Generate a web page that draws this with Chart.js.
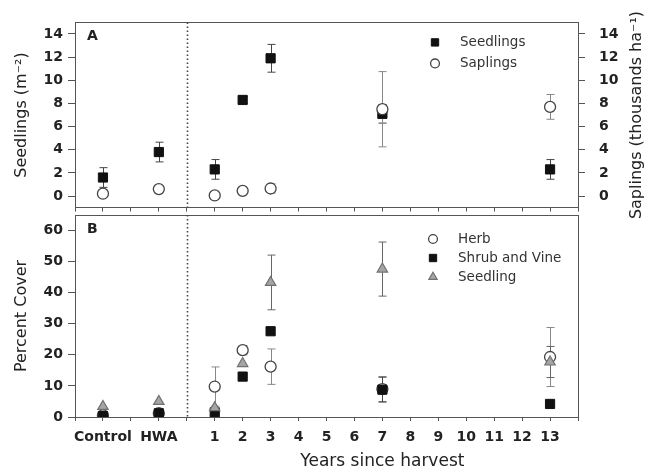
<!DOCTYPE html>
<html>
<head>
<meta charset="utf-8">
<script src="https://cdn.jsdelivr.net/npm/chart.js@4.4.1/dist/chart.umd.min.js"></script>
<style>
  html, body { margin: 0; padding: 0; background: #fff; }
  #wrap { position: relative; width: 645px; height: 473px; }
  canvas { position: absolute; left: 0; }
  #cA { top: 0; }
  #cB { top: 200px; }
</style>
</head>
<body>
<div id="wrap">
  <canvas id="cA" width="645" height="230"></canvas>
  <canvas id="cB" width="645" height="273"></canvas>
</div>
<script>
// ─── data ───
const groups = ['Control', 'HWA', '1', '2', '3', '7', '13'];

// panel A: density
const seedlingDensity    = [1.6, 3.8, 2.3, 8.3, 11.9, 7.1, 2.3];
const seedlingDensityErr = [0.85, 0.85, 0.85, 0.3, 1.2, 0.8, 0.85];
const saplingDensity     = [0.2, 0.6, 0.05, 0.45, 0.65, 7.5, 7.7];
const saplingDensityErr  = [0, 0, 0, 0, 0.4, 3.25, 1.07];

// panel B: percent cover
const herbCover        = [0.5, 1.2, 9.8, 21.5, 16.2, 9.0, 19.3];
const herbCoverErr     = [0, 0, 6.3, 1.5, 5.7, 4, 9.5];
const shrubCover       = [0.3, 1.2, 1.5, 13.0, 27.6, 8.8, 4.2];
const shrubCoverErr    = [0, 0, 0, 0, 0, 4, 0];
const seedlingCover    = [3.4, 5.0, 3.0, 17.2, 43.3, 47.6, 17.7];
const seedlingCoverErr = [0, 0, 0, 0, 8.8, 8.7, 5];

const yTicksA = [0, 2, 4, 6, 8, 10, 12, 14];
const yTicksB = [0, 10, 20, 30, 40, 50, 60];
const yearTicks = [1, 2, 3, 4, 5, 6, 7, 8, 9, 10, 11, 12, 13];

// reference groups sit left of the dotted line (x = 0)
const groupX = { Control: -3, HWA: -1 };
const xOf = g => (g in groupX ? groupX[g] : Number(g));
const pts = vals => groups.map((g, i) => ({ x: xOf(g), y: vals[i] }));

const tickLabel = v => {
    for (const k in groupX) if (groupX[k] === v) return k;
    return yearTicks.includes(v) ? String(v) : '';
};

Chart.defaults.font.family = "'DejaVu Sans', sans-serif";
Chart.defaults.color = '#222';

const FONT = "'DejaVu Sans', sans-serif";

// marker styles
const squareStyle = {
    pointStyle: 'rect', pointRadius: 6.5,
    pointBackgroundColor: '#111', pointBorderColor: '#111', pointBorderWidth: 1
};
const circleStyle = {
    pointStyle: 'circle', pointRadius: 5.5,
    pointBackgroundColor: '#fff', pointBorderColor: '#444', pointBorderWidth: 1.3
};
const triangleStyle = {
    pointStyle: 'triangle', pointRadius: 6,
    pointBackgroundColor: '#a5a5a5', pointBorderColor: '#707070', pointBorderWidth: 1.2
};

// ─── plugins ───
const errorBars = {
    id: 'errorBars',
    beforeDatasetsDraw(chart) {
        const ctx = chart.ctx;
        const y = chart.scales.y;
        chart.data.datasets.forEach((ds, i) => {
            if (!ds.err) return;
            const meta = chart.getDatasetMeta(i);
            ctx.save();
            ctx.strokeStyle = ds.errColor || '#555';
            ctx.lineWidth = 1;
            meta.data.forEach((pt, j) => {
                const e = ds.err[j];
                if (!e) return;
                const v = ds.data[j].y;
                const top = y.getPixelForValue(v + e);
                const bot = y.getPixelForValue(v - e);
                const x = Math.round(pt.x) + 0.5;
                ctx.beginPath();
                ctx.moveTo(x, top); ctx.lineTo(x, bot);
                ctx.moveTo(x - 4, top); ctx.lineTo(x + 4, top);
                ctx.moveTo(x - 4, bot); ctx.lineTo(x + 4, bot);
                ctx.stroke();
            });
            ctx.restore();
        });
    }
};

const panelDeco = {
    id: 'panelDeco',
    beforeDatasetsDraw(chart, args, o) {
        const { ctx, chartArea: a } = chart;
        ctx.save();
        // frame
        ctx.strokeStyle = '#555';
        ctx.lineWidth = 1;
        ctx.strokeRect(Math.round(a.left) + 0.5, Math.round(a.top) + 0.5,
                       Math.round(a.width), Math.round(a.height));
        // dotted divider between reference stands and years
        const px = Math.round(chart.scales.x.getPixelForValue(0)) + 0.5;
        ctx.strokeStyle = '#444';
        ctx.lineWidth = 1.6;
        ctx.setLineDash([1.6, 2.4]);
        ctx.beginPath();
        ctx.moveTo(px, a.top); ctx.lineTo(px, a.bottom);
        ctx.stroke();
        ctx.restore();
    },
    afterDraw(chart, args, o) {
        const { ctx, chartArea: a } = chart;
        ctx.save();
        ctx.fillStyle = '#222';
        ctx.textBaseline = 'middle';

        // panel letter
        ctx.font = `bold 14px ${FONT}`;
        ctx.textAlign = 'left';
        ctx.fillText(o.letter, a.left + 12, a.top + 14);

        // right axis title, reads bottom to top like the left one
        if (o.rightTitle) {
            ctx.save();
            ctx.font = `16px ${FONT}`;
            ctx.textAlign = 'center';
            ctx.translate(o.rightTitleX, (a.top + a.bottom) / 2);
            ctx.rotate(-Math.PI / 2);
            ctx.fillText(o.rightTitle, 0, 0);
            ctx.restore();
        }

        // x title centred over the years part
        if (o.xTitle) {
            const x0 = chart.scales.x.getPixelForValue(0);
            ctx.font = `17px ${FONT}`;
            ctx.textAlign = 'center';
            ctx.fillText(o.xTitle, (x0 + a.right) / 2, o.xTitleY);
        }

        // key
        const L = o.key;
        chart.data.datasets.forEach((ds, i) => {
            const cx = a.left + L.x;
            const cy = a.top + L.y + i * L.gap;
            ctx.fillStyle = ds.pointBackgroundColor;
            ctx.strokeStyle = ds.pointBorderColor;
            ctx.lineWidth = ds.pointBorderWidth;
            Chart.helpers.drawPoint(ctx, {
                pointStyle: ds.pointStyle, radius: ds.pointRadius * 0.8,
                rotation: 0, borderWidth: ds.pointBorderWidth
            }, cx, cy);
            ctx.fillStyle = '#333';
            ctx.font = `13.5px ${FONT}`;
            ctx.textAlign = 'left';
            ctx.fillText(ds.label, cx + 25, cy);
        });
        ctx.restore();
    }
};

function xAxis(showLabels, height, tickLength) {
    return {
        type: 'linear', min: -4, max: 14,
        afterFit: s => { s.height = height; },
        ticks: {
            stepSize: 1, autoSkip: false, maxRotation: 0, padding: 8,
            color: '#222', font: { size: 14, weight: 'bold' },
            callback: v => (showLabels ? tickLabel(v) : '')
        },
        grid: { drawOnChartArea: false, color: '#555', tickLength: tickLength },
        border: { display: false }
    };
}

function yAxis(position, min, max, tickVals, width, padding, title) {
    return {
        position: position, min: min, max: max,
        afterBuildTicks: s => { s.ticks = tickVals.map(v => ({ value: v })); },
        afterFit: s => { s.width = width; },
        ticks: { color: '#222', font: { size: 14, weight: 'bold' }, padding: padding },
        grid: { drawOnChartArea: false, color: '#555', tickLength: 7 },
        border: { display: false },
        title: title ? {
            display: true, text: title, color: '#222',
            font: { size: 16 }, padding: { top: 12, bottom: 0 }
        } : { display: false }
    };
}

// ─── panel A ───
new Chart(document.getElementById('cA'), {
    type: 'scatter',
    data: {
        datasets: [{
            label: 'Seedlings',
            data: pts(seedlingDensity),
            err: seedlingDensityErr, errColor: '#444',
            order: 1,
            ...squareStyle
        }, {
            label: 'Saplings',
            data: pts(saplingDensity),
            err: saplingDensityErr, errColor: '#888',
            order: 0,
            ...circleStyle
        }]
    },
    options: {
        responsive: false,
        animation: false,
        layout: { padding: { top: 14, left: 0, right: 0, bottom: 0 } },
        plugins: {
            legend: { display: false },
            tooltip: { enabled: false },
            panelDeco: {
                letter: 'A',
                rightTitle: 'Saplings (thousands ha⁻¹)', rightTitleX: 637,
                key: { x: 360, y: 20, gap: 21 }
            }
        },
        scales: {
            x: xAxis(false, 15, 4),
            y: yAxis('left', -1, 15, yTicksA, 75, 5, 'Seedlings (m⁻²)'),
            y2: yAxis('right', -1, 15, yTicksA, 67, 14, null)
        }
    },
    plugins: [errorBars, panelDeco]
});

// ─── panel B ───
new Chart(document.getElementById('cB'), {
    type: 'scatter',
    data: {
        datasets: [{
            label: 'Herb',
            data: pts(herbCover),
            err: herbCoverErr, errColor: '#888',
            order: 2,
            ...circleStyle
        }, {
            label: 'Shrub and Vine',
            data: pts(shrubCover),
            err: shrubCoverErr, errColor: '#444',
            order: 1,
            ...squareStyle
        }, {
            label: 'Seedling',
            data: pts(seedlingCover),
            err: seedlingCoverErr, errColor: '#666',
            order: 0,
            ...triangleStyle
        }]
    },
    options: {
        responsive: false,
        animation: false,
        layout: { padding: { top: 15, left: 0, right: 67, bottom: 0 } },
        plugins: {
            legend: { display: false },
            tooltip: { enabled: false },
            panelDeco: {
                letter: 'B',
                xTitle: 'Years since harvest', xTitleY: 262,
                key: { x: 358, y: 24, gap: 19 }
            }
        },
        scales: {
            x: xAxis(true, 56, 4),
            y: yAxis('left', 0, 65, yTicksB, 75, 5, 'Percent Cover')
        }
    },
    plugins: [errorBars, panelDeco]
});
</script>
</body>
</html>
